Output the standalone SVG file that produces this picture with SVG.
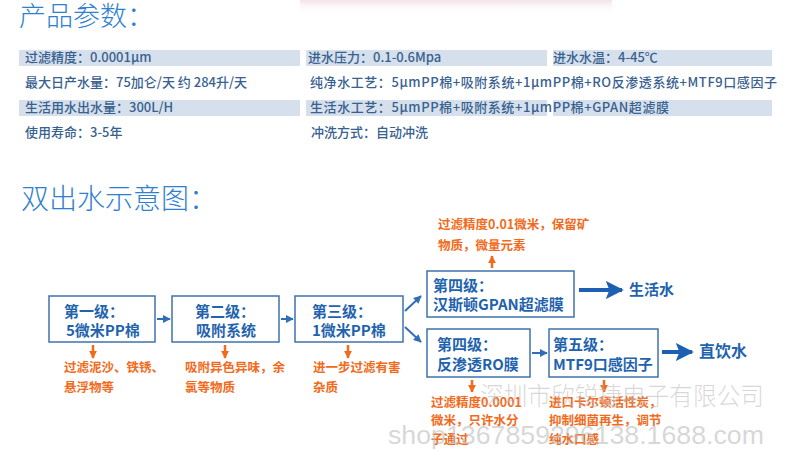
<svg xmlns="http://www.w3.org/2000/svg" width="790" height="466" viewBox="0 0 790 466">
<defs>
<style>
.ttl{font-family:"Noto Sans CJK SC","Noto Sans",sans-serif;font-weight:300;fill:#2f7fd0;font-size:27px}
.tb{font-family:"Noto Sans CJK SC","Liberation Sans",sans-serif;font-size:13px;font-weight:500;fill:#39618f}
.bar{fill:#d5e0ec}
.box{fill:#fff;stroke:#3f73ad;stroke-width:1.5}
.bt{font-family:"Noto Sans CJK SC","Liberation Sans",sans-serif;font-size:15px;font-weight:bold;fill:#1f63ae}
.ot{font-family:"Noto Sans CJK SC","Liberation Sans",sans-serif;font-size:12.5px;font-weight:bold;fill:#f26a1b}
.out{font-family:"Noto Sans CJK SC","Liberation Sans",sans-serif;font-size:15px;font-weight:bold;fill:#1f63ae}
.wm{font-family:"Liberation Sans","Noto Sans CJK SC",sans-serif;font-size:25px;fill:#bdbdbd;fill-opacity:0.6}
.sa{stroke:#2f6fb8;stroke-width:2;fill:none}
.ba{stroke:#1d5fb0;stroke-width:4;fill:none}
.oa{stroke:#f26a1b;stroke-width:2.5;fill:none}
</style>
<marker id="hs" viewBox="0 0 10 10" refX="9" refY="5" markerWidth="4" markerHeight="4" orient="auto" markerUnits="strokeWidth"><path d="M0,0 L10,5 L0,10 z" fill="#2f6fb8"/></marker>
<marker id="hb" viewBox="0 0 10 10" refX="9" refY="5" markerWidth="4.5" markerHeight="4.5" orient="auto" markerUnits="strokeWidth"><path d="M0,0 L10,5 L0,10 L2,5 z" fill="#1d5fb0"/></marker>
<marker id="ho" viewBox="0 0 10 10" refX="9" refY="5" markerWidth="3.2" markerHeight="4" orient="auto" markerUnits="strokeWidth"><path d="M0,0 L10,5 L0,10 z" fill="#f26a1b"/></marker>
<linearGradient id="pk" x1="0" y1="0" x2="0" y2="1"><stop offset="0" stop-color="#f3e3e8"/><stop offset="1" stop-color="#ffffff" stop-opacity="0"/></linearGradient>
</defs>
<rect width="790" height="466" fill="#fff"/>
<rect x="300" y="0" width="312" height="14" fill="url(#pk)"/>

<text class="ttl" x="19" y="26">产品参数：</text>

<g id="table">
<rect class="bar" x="19" y="50" width="281" height="16"/>
<rect class="bar" x="306" y="50" width="241" height="16"/>
<rect class="bar" x="553" y="50" width="219" height="16"/>
<rect class="bar" x="19" y="100" width="281" height="16"/>
<rect class="bar" x="306" y="100" width="241" height="16"/>
<rect class="bar" x="553" y="100" width="219" height="16"/>
<text class="tb" x="25" y="62">过滤精度：0.0001μm</text>
<text class="tb" x="308" y="62">进水压力：0.1-0.6Mpa</text>
<text class="tb" x="553" y="62">进水水温：4-45℃</text>
<text class="tb" x="25" y="87">最大日产水量：75加仑/天 约 284升/天</text>
<text class="tb" x="310" y="87" textLength="467" lengthAdjust="spacing">纯净水工艺：5μmPP棉+吸附系统+1μmPP棉+RO反渗透系统+MTF9口感因子</text>
<text class="tb" x="25" y="112">生活用水出水量：300L/H</text>
<text class="tb" x="310" y="112" textLength="359" lengthAdjust="spacing">生活水工艺：5μmPP棉+吸附系统+1μmPP棉+GPAN超滤膜</text>
<text class="tb" x="25" y="137">使用寿命：3-5年</text>
<text class="tb" x="311" y="137">冲洗方式：自动冲洗</text>
</g>

<text class="ttl" x="21" y="209" style="font-size:28px">双出水示意图：</text>

<g id="connectors">
<line class="sa" x1="157" y1="319" x2="170" y2="319" marker-end="url(#hs)"/>
<line class="sa" x1="281" y1="319" x2="293" y2="319" marker-end="url(#hs)"/>
<line class="sa" x1="405" y1="311" x2="421" y2="296" marker-end="url(#hs)"/>
<line class="sa" x1="405" y1="327" x2="421" y2="342" marker-end="url(#hs)"/>
<line class="sa" x1="532" y1="353" x2="547" y2="353" marker-end="url(#hs)"/>
<line class="ba" x1="579" y1="290" x2="622" y2="290" marker-end="url(#hb)"/>
<line class="ba" x1="662" y1="352" x2="692" y2="352" marker-end="url(#hb)"/>
<line class="oa" x1="93" y1="345" x2="93" y2="358" marker-end="url(#ho)"/>
<line class="oa" x1="225" y1="345" x2="225" y2="358" marker-end="url(#ho)"/>
<line class="oa" x1="348" y1="345" x2="348" y2="358" marker-end="url(#ho)"/>
<line class="oa" x1="472" y1="380" x2="472" y2="392" marker-end="url(#ho)"/>
<line class="oa" x1="604" y1="380" x2="604" y2="392" marker-end="url(#ho)"/>
<line class="oa" x1="492" y1="268" x2="492" y2="256" marker-end="url(#ho)"/>
</g>

<g id="n1">
<rect class="box" x="49" y="296" width="106" height="46"/>
<text class="bt" x="64" y="317">第一级：</text>
<text class="bt" x="66" y="336">5微米PP棉</text>
<text class="ot" x="64" y="372">过滤泥沙、铁锈、</text>
<text class="ot" x="64" y="392">悬浮物等</text>
</g>
<g id="n2">
<rect class="box" x="172" y="296" width="107" height="46"/>
<text class="bt" x="195" y="317">第二级：</text>
<text class="bt" x="196" y="336">吸附系统</text>
<text class="ot" x="185" y="372">吸附异色异味，余</text>
<text class="ot" x="185" y="392">氯等物质</text>
</g>
<g id="n3">
<rect class="box" x="295" y="296" width="108" height="46"/>
<text class="bt" x="312" y="317">第三级：</text>
<text class="bt" x="312" y="336">1微米PP棉</text>
<text class="ot" x="313" y="372">进一步过滤有害</text>
<text class="ot" x="313" y="392">杂质</text>
</g>
<g id="n4a">
<rect class="box" x="427" y="271" width="147" height="46"/>
<text class="bt" x="433" y="291">第四级：</text>
<text class="bt" x="433" y="310">汉斯顿GPAN超滤膜</text>
<text class="ot" x="438" y="229">过滤精度0.01微米，保留矿</text>
<text class="ot" x="438" y="250">物质，微量元素</text>
</g>
<g id="n4b">
<rect class="box" x="427" y="329" width="103" height="48"/>
<text class="bt" x="437" y="350">第四级：</text>
<text class="bt" x="437" y="370">反渗透RO膜</text>
<text class="ot" x="431" y="407">过滤精度0.0001</text>
<text class="ot" x="431" y="425">微米，只许水分</text>
<text class="ot" x="431" y="444">子通过</text>
</g>
<g id="n5">
<rect class="box" x="549" y="329" width="109" height="48"/>
<text class="bt" x="553" y="350">第五级：</text>
<text class="bt" x="553" y="370">MTF9口感因子</text>
<text class="ot" x="549" y="407">进口卡尔顿活性炭，</text>
<text class="ot" x="549" y="425">抑制细菌再生，调节</text>
<text class="ot" x="549" y="444">纯水口感</text>
</g>
<g id="out1"><text class="out" x="629" y="295">生活水</text></g>
<g id="out2"><text class="out" x="699" y="357" style="font-size:16px">直饮水</text></g>

<g id="watermark">
<text class="wm" x="480" y="405" textLength="284" lengthAdjust="spacingAndGlyphs" style="font-family:'Noto Sans CJK SC',sans-serif;font-weight:300">深圳市欣锐捷电子有限公司</text>
<text class="wm" x="388" y="444" textLength="376" lengthAdjust="spacingAndGlyphs">shop1367859296138.1688.com</text>
</g>
</svg>
